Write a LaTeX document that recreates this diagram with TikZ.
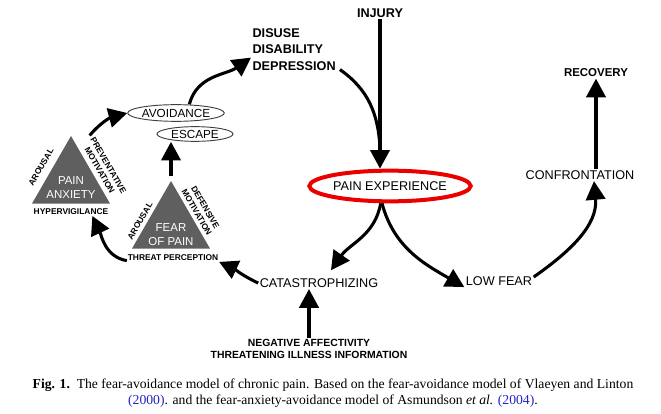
\documentclass[tikz,border=0pt]{standalone}
\usepackage{fontspec}
\setmainfont{Liberation Serif}
\newfontfamily\labfont{Liberation Sans}
\usetikzlibrary{positioning}
\usetikzlibrary{shapes.geometric}
\usetikzlibrary{arrows.meta}

\definecolor{tridark}{RGB}{95,95,95}
\definecolor{pered}{RGB}{235,0,0}
\definecolor{citeblue}{RGB}{35,35,200}

\tikzset{
    lbl/.style={font=\labfont\fontsize{9.5}{11}\selectfont, inner sep=1pt},
    blbl/.style={font=\labfont\bfseries\fontsize{9.5}{12.4}\selectfont, inner sep=1pt},
    tiny/.style={font=\labfont\bfseries\fontsize{6.3}{7.4}\selectfont, inner sep=0.5pt, align=center},
    flow/.style={line width=2.3pt, -{Triangle[length=14pt 0, width=14.5pt 0]}},
    tri/.style={regular polygon, regular polygon sides=3, minimum size=67.5pt, inner sep=0pt, fill=tridark},
    oval/.style={ellipse, draw=black!75, line width=0.7pt, inner sep=0pt, font=\labfont\fontsize{8.8}{10}\selectfont},
}

\begin{document}
\begin{tikzpicture}[x=0.75pt, y=-0.75pt]
    \useasboundingbox (0,0) rectangle (661,414);

    % main cycle
    \node[blbl] (injury) at (380,13) {INJURY};
    \node[blbl, align=left, anchor=north west] (dis) at (251,27) {DISUSE\\DISABILITY\\DEPRESSION};
    \node[lbl, ellipse, draw=pered, line width=3pt, minimum width=121pt, minimum height=23pt, inner sep=0pt] (pe) at (390,186) {PAIN EXPERIENCE};
    \node[lbl] (cat) at (319,283) {CATASTROPHIZING};
    \node[blbl, font=\labfont\bfseries\fontsize{7.8}{9}\selectfont, align=center] (neg) at (309,349) {NEGATIVE AFFECTIVITY\\THREATENING ILLNESS INFORMATION};
    \node[lbl] (low) at (499,281) {LOW FEAR};
    \node[lbl] (conf) at (580,175) {CONFRONTATION};
    \node[blbl, font=\labfont\bfseries\fontsize{8.6}{10}\selectfont] (rec) at (596,73) {RECOVERY};

    % avoidance side
    \node[oval, minimum width=71pt, minimum height=12.5pt] (avoid) at (176,113) {AVOIDANCE};
    \node[oval, minimum width=57pt, minimum height=11pt] (escape) at (195,134) {ESCAPE};

    \node[tri] (anx) at (71,181) {};
    \node[text=white, font=\labfont\fontsize{8.6}{11}\selectfont, align=center] (anxtxt) at ([yshift=-5pt]anx.center) {PAIN\\ANXIETY};
    \node[tiny] (hyper) at (71,212) {HYPERVIGILANCE};
    \node[tiny, rotate=60] (arousala) at (41,167) {AROUSAL};
    \node[tiny, rotate=-60] (prev) at (104,168) {PREVENTATIVE\\MOTIVATION};

    \node[tri] (fear) at (171,226) {};
    \node[text=white, font=\labfont\fontsize{8.6}{11}\selectfont, align=center] (feartxt) at ([yshift=-6.5pt]fear.center) {FEAR\\OF PAIN};
    \node[tiny] (threat) at (173,258) {THREAT PERCEPTION};
    \node[tiny, rotate=60] (arousalb) at (140,221) {AROUSAL};
    \node[tiny, rotate=-60] (defm) at (201,210) {DEFENSIVE\\MOTIVATION};

    \coordinate (merge) at (380,148);

    \draw[flow] (injury.south) -- (injury.south |- pe.north);
    \draw[line width=2.3pt] ([shift={(2pt,2pt)}]dis.south east) to[out=-35, in=93] (merge);
    \draw[flow] ([xshift=-7pt]pe.south) to[out=-100, in=55] ([shift={(9pt,5pt)}]cat.north);
    \draw[flow] ([xshift=-6pt]pe.south) to[out=-75, in=150] (low.south west);
    \draw[flow] ([yshift=3pt]low.east) to[out=35, in=-85] ([xshift=10.5pt]conf.south);
    \draw[flow] (conf.north -| rec.south) -- (rec.south);
    \draw[flow] (neg.north) -- (neg.north |- cat.south);
    \draw[flow] (cat.west) to[out=155, in=-25] (threat.south east);
    \draw[flow] ([yshift=-2pt]threat.west) to[out=170, in=-65] ([xshift=16pt]hyper.south);
    \draw[flow] ([yshift=3pt]fear.corner 1) -- (fear.corner 1 |- escape.south);
    \draw[flow] ([xshift=14pt]anx.corner 1) to[out=50, in=195] (avoid.west);
    \draw[flow] ([xshift=10pt]avoid.north) to[out=75, in=215] ([yshift=-6pt]dis.west);

    % caption
    \node[font=\fontsize{10.25}{12.2}\selectfont, align=center] (cap) at (333,393) {\textbf{Fig. 1.}\enspace The fear-avoidance model of chronic pain. Based on the fear-avoidance model of Vlaeyen and Linton\\\textcolor{citeblue}{(2000)}. and the fear-anxiety-avoidance model of Asmundson \textit{et al.} \textcolor{citeblue}{(2004)}.};
\end{tikzpicture}
\end{document}
